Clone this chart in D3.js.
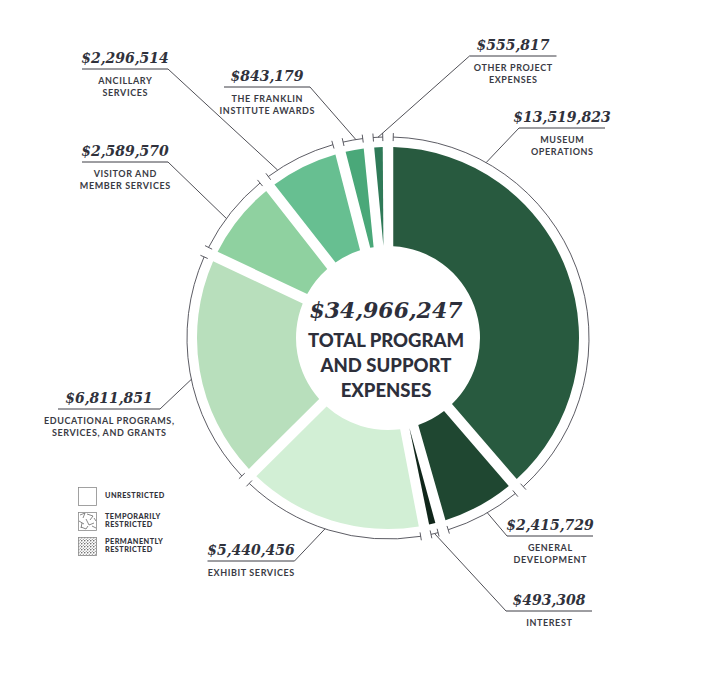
<!DOCTYPE html>
<html>
<head>
<meta charset="utf-8">
<script src="https://cdnjs.cloudflare.com/ajax/libs/d3/7.8.5/d3.min.js"></script>
<style>
  body { margin: 0; background: #fff; }
</style>
</head>
<body>
<div id="chart"></div>
<script>
// data, clockwise from the top
let categories = ["Museum Operations", "General Development", "Interest", "Exhibit Services",
    "Educational Programs, Services, and Grants", "Visitor and Member Services",
    "Ancillary Services", "The Franklin Institute Awards", "Other Project Expenses"];
let labelLines = [["MUSEUM", "OPERATIONS"], ["GENERAL", "DEVELOPMENT"], ["INTEREST"], ["EXHIBIT SERVICES"],
    ["EDUCATIONAL PROGRAMS,", "SERVICES, AND GRANTS"], ["VISITOR AND", "MEMBER SERVICES"],
    ["ANCILLARY", "SERVICES"], ["THE FRANKLIN", "INSTITUTE AWARDS"], ["OTHER PROJECT", "EXPENSES"]];
let values = [13519823, 2415729, 493308, 5440456, 6811851, 2589570, 2296514, 843179, 555817];
let totalLines = ["TOTAL PROGRAM", "AND SUPPORT", "EXPENSES"];
let legendLines = [["UNRESTRICTED"], ["TEMPORARILY", "RESTRICTED"], ["PERMANENTLY", "RESTRICTED"]];

let colors = ["#285a3f", "#1f4731", "#10261a", "#d2efd5", "#b8dfbc", "#8fd1a0", "#67bf91", "#4aa879", "#2f7a58"];

// where each label sits (underline centre, y, width) and which end the leader leaves from
let labelLayout = [
    {cx: 562, y: 128, w: 86, end: "left", frac: 0.21},
    {cx: 550, y: 536, w: 86, end: "left", frac: 0.45},
    {cx: 549, y: 611, w: 86, end: "left", frac: 0.5},
    {cx: 251, y: 561, w: 87, end: "right", frac: 0.52},
    {cx: 109, y: 409, w: 102, end: "right", frac: 0.47},
    {cx: 125, y: 162, w: 86, end: "right", frac: 0.42},
    {cx: 125, y: 69, w: 86, end: "right", frac: 0.2},
    {cx: 267, y: 87, w: 86, end: "right", frac: 0.6},
    {cx: 513, y: 56, w: 87, end: "left", frac: 0.5}
];

let width = 701, height = 684;
let cx = 388, cy = 338;
let rOuter = 191, rInner = 92, rRing = 201;
let gap = 10.5;

let serif = "'DejaVu Serif', serif";
let sans = "Lato, 'Open Sans', sans-serif";
let ink = "#30323c";
let fmt = d3.format("$,");

let svg = d3.select("#chart").append("svg")
    .attr("width", width)
    .attr("height", height);

let defs = svg.append("defs");

// temporarily restricted: scratchy shards
let pt = defs.append("pattern").attr("id", "temp")
    .attr("patternUnits", "userSpaceOnUse").attr("width", 19).attr("height", 18)
    .attr("x", 78).attr("y", 512);
pt.append("path")
    .attr("d", "M2,3 L7,1 L5,6 M9,2 L15,4 L12,8 M1,9 L6,12 M8,7 L11,13 L16,11 M14,14 L18,16 M3,15 L8,17 L10,14 M16,6 L18,9 M4,11 L3,16")
    .attr("fill", "none").attr("stroke", "#555").attr("stroke-width", 0.7);

// permanently restricted: stipple
let pp = defs.append("pattern").attr("id", "perm")
    .attr("patternUnits", "userSpaceOnUse").attr("width", 3).attr("height", 3);
pp.append("circle").attr("cx", 0.8).attr("cy", 0.8).attr("r", 0.7).attr("fill", "#444");
pp.append("circle").attr("cx", 2.3).attr("cy", 2.2).attr("r", 0.55).attr("fill", "#666");

let g = svg.append("g").attr("transform", "translate(" + cx + "," + cy + ")");

let pie = d3.pie().sort(null).startAngle(0).endAngle(2 * Math.PI);
let arcs = pie(values);

let arc = d3.arc()
    .innerRadius(rInner)
    .outerRadius(rOuter)
    .padAngle(gap / rOuter)
    .padRadius(rOuter);

g.selectAll("path.slice")
    .data(arcs)
    .enter()
    .append("path")
        .attr("class", "slice")
        .attr("d", arc)
        .attr("fill", function (d, i) { return colors[i]; });

// thin outer arc with end ticks
function polar(r, a) {
    return [r * Math.sin(a), -r * Math.cos(a)];
}

let ringPad = (gap / 2) / rRing;

arcs.forEach(function (d) {
    let a0 = d.startAngle + ringPad;
    let a1 = d.endAngle - ringPad;
    let p = d3.path();
    let s = polar(rRing, a0);
    p.moveTo(s[0], s[1]);
    p.arc(0, 0, rRing, a0 - Math.PI / 2, a1 - Math.PI / 2);
    g.append("path")
        .attr("d", p.toString())
        .attr("fill", "none")
        .attr("stroke", "#4a4a52")
        .attr("stroke-width", 0.9);
    [a0, a1].forEach(function (a) {
        let t0 = polar(rRing - 4, a), t1 = polar(rRing + 4, a);
        g.append("line")
            .attr("x1", t0[0]).attr("y1", t0[1])
            .attr("x2", t1[0]).attr("y2", t1[1])
            .attr("stroke", "#4a4a52")
            .attr("stroke-width", 0.9);
    });
});

// labels
let labels = svg.append("g");

arcs.forEach(function (d, i) {
    let L = labelLayout[i];
    let x0 = L.cx - L.w / 2, x1 = L.cx + L.w / 2;
    let a = d.startAngle + L.frac * (d.endAngle - d.startAngle);
    let pt = polar(rRing, a);
    let lx = L.end === "left" ? x0 : x1;

    labels.append("line")
        .attr("x1", lx).attr("y1", L.y)
        .attr("x2", cx + pt[0]).attr("y2", cy + pt[1])
        .attr("stroke", "#3c3c44").attr("stroke-width", 0.9);

    labels.append("line")
        .attr("x1", x0).attr("y1", L.y)
        .attr("x2", x1).attr("y2", L.y)
        .attr("stroke", "#3c3c44").attr("stroke-width", 1);

    labels.append("text")
        .attr("x", L.cx).attr("y", L.y - 6)
        .attr("text-anchor", "middle")
        .attr("font-family", serif)
        .attr("font-weight", "bold")
        .attr("font-style", "italic")
        .attr("font-size", "14px")
        .attr("fill", ink)
        .text(fmt(d.data));

    labelLines[i].forEach(function (line, j) {
        labels.append("text")
            .attr("x", L.cx + 0.3).attr("y", L.y + 15 + j * 11.5)
            .attr("text-anchor", "middle")
            .attr("font-family", sans)
            .attr("font-weight", 700)
            .attr("font-size", "9px")
            .attr("letter-spacing", "0.6px")
            .attr("fill", "#3a3b44")
            .text(line);
    });
});

// centre total
let total = d3.sum(values);
svg.append("text")
    .attr("x", 386).attr("y", 318)
    .attr("text-anchor", "middle")
    .attr("font-family", serif)
    .attr("font-weight", "bold")
    .attr("font-style", "italic")
    .attr("font-size", "22px")
    .attr("fill", "#2d2f3b")
    .text(fmt(total));

totalLines.forEach(function (line, j) {
    svg.append("text")
        .attr("x", 386).attr("y", 347 + j * 25)
        .attr("text-anchor", "middle")
        .attr("font-family", sans)
        .attr("font-weight", 900)
        .attr("font-size", "18.5px")
        .attr("fill", "#2d2f3b")
        .text(line);
});

// legend
let legend = svg.append("g");
let legendFill = ["#fff", "url(#temp)", "url(#perm)"];
let legendY = [487, 512, 537];

legendLines.forEach(function (lines, i) {
    legend.append("rect")
        .attr("x", 78.5).attr("y", legendY[i] + 0.5)
        .attr("width", 18).attr("height", 18)
        .attr("fill", legendFill[i])
        .attr("stroke", "#8a8a8a")
        .attr("stroke-width", 0.8);
    let base = lines.length === 1 ? legendY[i] + 11 : legendY[i] + 7;
    lines.forEach(function (line, j) {
        legend.append("text")
            .attr("x", 105).attr("y", base + j * 8)
            .attr("font-family", sans)
            .attr("font-weight", 900)
            .attr("font-size", "7.3px")
            .attr("letter-spacing", "0.45px")
            .attr("fill", "#33343c")
            .text(line);
    });
});
</script>
</body>
</html>
